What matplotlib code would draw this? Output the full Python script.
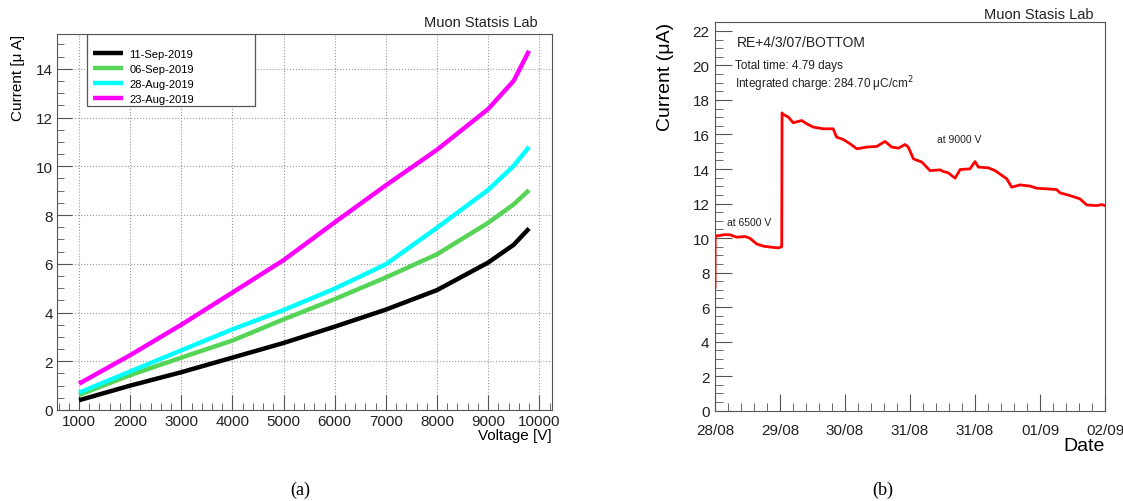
import matplotlib
matplotlib.use("Agg")
import matplotlib.pyplot as plt
from matplotlib.patches import Rectangle
from matplotlib.ticker import MultipleLocator, FixedLocator

plt.rcParams["font.family"] = ["Liberation Sans", "DejaVu Sans"]

# (a) current vs voltage for four scan dates
voltage = [1000, 2000, 3000, 4000, 5000, 6000, 7000, 8000, 9000, 9500, 9800]
dates = ["11-Sep-2019", "06-Sep-2019", "28-Aug-2019", "23-Aug-2019"]
cur_11sep = [0.40, 1.00, 1.55, 2.15, 2.75, 3.42, 4.12, 4.92, 6.05, 6.78, 7.45]
cur_06sep = [0.62, 1.43, 2.15, 2.85, 3.72, 4.55, 5.44, 6.39, 7.68, 8.44, 9.02]
cur_28aug = [0.71, 1.58, 2.45, 3.31, 4.10, 4.98, 5.98, 7.48, 9.03, 10.02, 10.80]
cur_23aug = [1.08, 2.25, 3.50, 4.82, 6.15, 7.70, 9.22, 10.68, 12.35, 13.51, 14.74]
colors = ["black", "#55d455", "cyan", "magenta"]

# (b) current vs time (hours since start)
t_hours = [0.0, 0.05, 2.95, 4.4, 6.4, 8.9, 10.3, 12.3, 14.3, 16.7, 18.7, 19.7,
           19.8, 19.9, 21.7, 23.1, 25.6, 27.1, 29.0, 32.0, 34.9, 35.9, 37.9,
           39.9, 41.9, 44.8, 47.8, 50.2, 52.2, 54.2, 56.1, 57.1, 58.6, 61.1,
           63.5, 66.5, 67.4, 68.9, 70.9, 72.4, 75.3, 76.8, 77.8, 80.7, 82.7,
           86.2, 87.6, 90.1, 93.1, 95.0, 98.0, 100.9, 101.9, 104.9, 107.8,
           109.8, 112.8, 114.2, 115.2]
current = [7.15, 10.11, 10.20, 10.19, 10.05, 10.09, 9.99, 9.66, 9.53, 9.47,
           9.43, 9.50, 17.25, 17.2, 17.0, 16.68, 16.81, 16.62, 16.43, 16.33,
           16.33, 15.85, 15.71, 15.46, 15.17, 15.27, 15.31, 15.60, 15.27,
           15.21, 15.42, 15.27, 14.59, 14.40, 13.91, 13.95, 13.86, 13.78,
           13.47, 13.97, 14.01, 14.43, 14.11, 14.07, 13.91, 13.43, 12.95,
           13.08, 13.01, 12.89, 12.85, 12.81, 12.62, 12.46, 12.27, 11.92,
           11.88, 11.94, 11.88]
date_labels = ["28/08", "29/08", "30/08", "31/08", "31/08", "01/09", "02/09"]
date_step = 19.2

fig = plt.figure(figsize=(11.23, 5.02), dpi=100)
edge = "#555555"

# ---- panel (a)
ax = fig.add_axes([0.0508, 0.1813, 0.4408, 0.749])
for vals, lab, col in zip([cur_11sep, cur_06sep, cur_28aug, cur_23aug], dates, colors):
    ax.plot(voltage, vals, color=col, lw=3.2, label=lab, solid_capstyle="butt")
ax.set_xlim(570, 10250)
ax.set_ylim(0, 15.43)
ax.xaxis.set_minor_locator(MultipleLocator(200))
ax.yaxis.set_major_locator(MultipleLocator(2))
ax.yaxis.set_minor_locator(MultipleLocator(0.5))
ax.set_xticks(range(1000, 10001, 1000))
ax.grid(True, which="major", ls=":", color="#999999", lw=0.8)
ax.tick_params(which="both", direction="in", colors="#222222", labelsize=11,
               top=False, right=False)
ax.tick_params(which="major", length=11, color=edge, pad=3)
ax.tick_params(which="minor", length=5, color=edge)
for s in ax.spines.values():
    s.set_color(edge)
ax.set_xlabel("Voltage [V]", fontsize=11, loc="right", labelpad=0)
ax.set_ylabel("Current [\u03bc A]", fontsize=11, loc="top", labelpad=8)
ax.add_patch(Rectangle((0.0606, 0.8085), 0.34, 0.1915, transform=ax.transAxes,
                       facecolor="white", edgecolor=edge, lw=0.9, zorder=4))
leg = ax.legend(loc="upper left", bbox_to_anchor=(0.0727, 0.96), frameon=False,
                fontsize=8, handlelength=2.7, handletextpad=0.55,
                labelspacing=0.45, borderpad=0, borderaxespad=0)
leg.set_zorder(5)
fig.text(538 / 1123, 1 - 23 / 502, "Muon Statsis Lab", ha="right", va="center",
         fontsize=10.5, color="#222222")

# ---- panel (b)
bx = fig.add_axes([0.6367, 0.1799, 0.3473, 0.7737])
bx.plot(t_hours, current, color="red", lw=2)
bx.set_xlim(0, 6 * date_step)
bx.set_ylim(0, 22.5)
bx.xaxis.set_major_locator(FixedLocator([k * date_step for k in range(7)]))
bx.xaxis.set_minor_locator(MultipleLocator(date_step / 5))
bx.set_xticklabels(date_labels)
bx.yaxis.set_major_locator(MultipleLocator(2))
bx.yaxis.set_minor_locator(MultipleLocator(0.5))
bx.tick_params(which="both", direction="in", colors="#222222", labelsize=11,
               top=False, right=False)
bx.tick_params(which="major", length=12, color=edge)
bx.tick_params(which="minor", length=6, color=edge)
bx.tick_params(axis="y", pad=4)
bx.tick_params(axis="x", pad=9)
for s in bx.spines.values():
    s.set_color(edge)
bx.set_xlabel("Date", fontsize=14, loc="right", labelpad=0)
bx.set_ylabel("Current (\u03bcA)", fontsize=14, loc="top", labelpad=13)
bx.text(0.055, 0.95, "RE+4/3/07/BOTTOM", transform=bx.transAxes, fontsize=10,
        va="center", color="#222222")
bx.text(0.05, 0.89, "Total time: 4.79 days", transform=bx.transAxes, fontsize=8.5,
        va="center", color="#222222")
bx.text(0.05, 0.843, "Integrated charge: 284.70 \u03bcC/cm$^2$",
        transform=bx.transAxes, fontsize=8.5, va="center", color="#222222")
bx.text(0.03, 0.485, "at 6500 V", transform=bx.transAxes, fontsize=7.5,
        va="center", color="#222222")
bx.text(0.568, 0.7, "at 9000 V", transform=bx.transAxes, fontsize=7.5,
        va="center", color="#222222")
fig.text(1093 / 1123, 1 - 15 / 502, "Muon Stasis Lab", ha="right", va="center",
         fontsize=10.5, color="#222222")

# captions
fig.text(300 / 1123, 1 - 490 / 502, "(a)", ha="center", va="center",
         fontsize=13, family=["Liberation Serif"])
fig.text(883 / 1123, 1 - 490 / 502, "(b)", ha="center", va="center",
         fontsize=13, family=["Liberation Serif"])

fig.savefig("out.png", dpi=100)
